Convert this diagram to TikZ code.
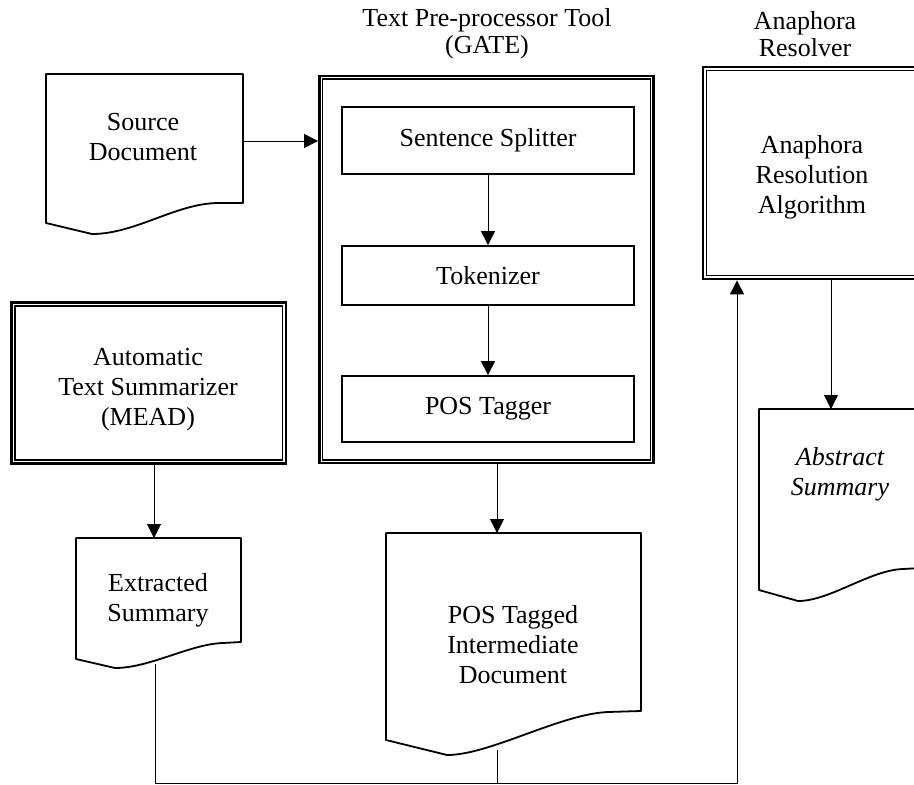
\documentclass[tikz,border=0pt]{standalone}
\usepackage{fontspec}
\setmainfont{Liberation Serif}
\usetikzlibrary{arrows.meta,calc}

\begin{document}
\begin{tikzpicture}[x=1pt,y=-1pt,
  txt/.style={font=\fontsize{26pt}{30pt}\selectfont, align=center, inner sep=0pt},
  headtxt/.style={font=\fontsize{26pt}{27pt}\selectfont, align=center, inner sep=0pt},
  stepbox/.style={draw, line width=1.8pt, inner sep=0pt, minimum width=292pt,
    font=\fontsize{26pt}{30pt}\selectfont},
  outerframe/.style={draw, line width=2.8pt, inner sep=0pt},
  innerframe/.style={line width=1.6pt},
  docline/.style={line width=1.8pt, line join=round},
  flow/.style={line width=1pt, -{Triangle[length=14pt,width=14pt]}},
  link/.style={line width=1pt}
]
\useasboundingbox (0,0) rectangle (914,785);
\begin{scope}
\clip (0,0) rectangle (914,785);

% ---- headings ----
\node[headtxt] (gatehead) at (487,34) {Text Pre-processor Tool\\(GATE)};
\node[headtxt] (anahead)  at (805,34) {Anaphora\\Resolver};

% ---- source document ----
\draw[docline] (46,74) -- (243,74) -- (243,203) -- (217,203)
  .. controls (175,204) and (135,234) .. (92,234) -- (46,223) -- cycle;
\node[txt] (srctxt) at (143,137) {Source\\Document};
\coordinate (srcR) at (243,141);

% ---- GATE pre-processor (double frame) ----
\node[outerframe, minimum width=334pt, minimum height=387pt] (gate) at (486.5,269.5) {};
\draw[innerframe] ($(gate.north west)+(4.5,4.5)$) rectangle ($(gate.south east)+(-4.5,-4.5)$);

\node[stepbox, minimum height=67pt] (split) at (488,140.5) {Sentence Splitter};
\node[stepbox, minimum height=59pt] (tok)   at (488,275.5) {Tokenizer};
\node[stepbox, minimum height=66pt] (pos)   at (488,409)   {POS Tagger};

% ---- anaphora resolver (double frame) ----
\node[outerframe, minimum width=215pt, minimum height=212pt] (ana) at (810.5,173) {};
\draw[innerframe] ($(ana.north west)+(5,5)$) rectangle ($(ana.south east)+(-5,-5)$);
\node[txt] (anatxt) at (812,177) {Anaphora\\Resolution\\Algorithm};

% ---- MEAD summarizer (double frame) ----
\node[outerframe, minimum width=274.5pt, minimum height=161pt] (mead) at (148.75,383) {};
\draw[innerframe] ($(mead.north west)+(5,5)$) rectangle ($(mead.south east)+(-5,-5)$);
\node[txt] (meadtxt) at (148,390) {Automatic\\Text Summarizer\\(MEAD)};

% ---- extracted summary ----
\draw[docline] (76,538) -- (241,538) -- (241,642) -- (223,643)
  .. controls (190,644) and (150,668) .. (115,668) -- (76,659) -- cycle;
\node[txt] (extxt) at (158,600) {Extracted\\Summary};
\coordinate (exTop) at (154,538);
\coordinate (exBot) at (155,664);

% ---- POS tagged document ----
\draw[docline] (386,533) -- (641,533) -- (641,711) -- (608,712)
  .. controls (560,714) and (490,755) .. (447,755) -- (386,740) -- cycle;
\node[txt] (postxt) at (513,645) {POS Tagged\\Intermediate\\Document};
\coordinate (posTop) at (497,533);
\coordinate (posBot) at (497,750);

% ---- abstract summary ----
\draw[docline] (759,409) -- (921,409) -- (921,568) -- (903,569)
  .. controls (870,570) and (830,601) .. (798,601) -- (759,590) -- cycle;
\node[txt, font=\fontsize{26pt}{30pt}\selectfont\itshape] (abstxt) at (840,474) {Abstract\\Summary};
\coordinate (absTop) at (831,409);

% ---- connectors ----
\draw[flow] (srcR) -- (srcR -| gate.west);
\draw[flow] (split) -- (tok);
\draw[flow] (tok) -- (pos);
\draw[flow] (mead.south -| exTop) -- (exTop);
\draw[flow] (gate.south -| posTop) -- (posTop);
\draw[flow] (ana.south -| absTop) -- (absTop);

\coordinate (busR) at (737,783);
\draw[flow] (exBot) |- (busR) -- (busR |- ana.south);
\draw[link] (posBot) -- (posBot |- busR);
\end{scope}
\end{tikzpicture}
\end{document}
